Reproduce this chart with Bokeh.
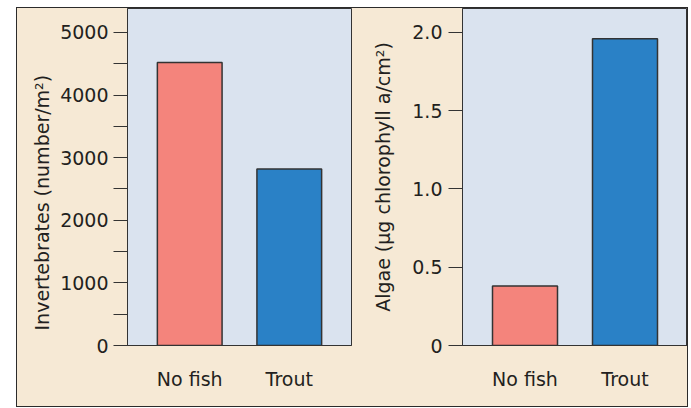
from bokeh.plotting import figure
from bokeh.layouts import row
from bokeh.models import FactorRange, Range1d, FixedTicker, Title
from bokeh.embed import file_html
from bokeh.resources import INLINE

# ---- data ----
categories = ["No fish", "Trout"]
invertebrates = [4520, 2820]          # number per m2
algae = [0.38, 1.96]                  # ug chlorophyll a per cm2
bar_colors = ["#f4847c", "#2a81c6"]

inv_ticks = [0, 1000, 2000, 3000, 4000, 5000]
inv_minor = [500, 1500, 2500, 3500, 4500]
alg_ticks = [0, 0.5, 1.0, 1.5, 2.0]
alg_tick_labels = ["0", "0.5", "1.0", "1.5", "2.0"]

inv_label = "Invertebrates (number/m²)"
alg_label = "Algae (μg chlorophyll a/cm²)"

# ---- style ----
BEIGE = "#f6e9d5"
PANEL = "#dae3ef"
DARK = "#333333"
TXT = "#231f20"
FONT = "DejaVu Sans"
FS = "19px"
H = 398


def style(p):
    p.xgrid.visible = False
    p.ygrid.visible = False
    p.xaxis.major_tick_line_color = None
    p.xaxis.minor_tick_line_color = None
    p.xaxis.axis_line_color = DARK
    p.xaxis.major_label_standoff = 16
    p.yaxis.axis_line_color = DARK
    p.yaxis.major_tick_line_color = DARK
    p.yaxis.minor_tick_line_color = DARK
    p.yaxis.major_tick_in = 0
    p.yaxis.major_tick_out = 14
    p.yaxis.minor_tick_in = 0
    p.yaxis.minor_tick_out = 14
    p.yaxis.major_label_standoff = 5
    for ax in (p.xaxis, p.yaxis):
        ax.major_label_text_font = FONT
        ax.major_label_text_font_size = FS
        ax.major_label_text_color = TXT
        ax.axis_label_text_font = FONT
        ax.axis_label_text_font_size = FS
        ax.axis_label_text_font_style = "normal"
        ax.axis_label_text_color = TXT


p1 = figure(width=340, height=H,
            x_range=FactorRange(factors=categories, range_padding=0.125,
                                range_padding_units="absolute"),
            y_range=Range1d(0, 5383),
            output_backend="svg", toolbar_location=None, title=None,
            min_border_left=110, min_border_right=6,
            min_border_top=0, min_border_bottom=61,
            background_fill_color=PANEL, border_fill_color=BEIGE,
            outline_line_color=DARK)
p1.vbar(x=categories, top=invertebrates, width=0.65, fill_color=bar_colors,
        line_color=DARK, line_width=1.5)
style(p1)
p1.yaxis.ticker = FixedTicker(ticks=inv_ticks, minor_ticks=inv_minor)
p1.add_layout(Title(text=inv_label, align="left", offset=15,
                    text_font=FONT, text_font_size=FS,
                    text_font_style="normal", text_color=TXT), "left")

p2 = figure(width=330, height=H,
            x_range=FactorRange(factors=categories, range_padding=0.125,
                                range_padding_units="absolute"),
            y_range=Range1d(0, 2.153),
            output_backend="svg", toolbar_location=None, title=None,
            min_border_left=105, min_border_right=0,
            min_border_top=0, min_border_bottom=61,
            background_fill_color=PANEL, border_fill_color=BEIGE,
            outline_line_color=DARK)
p2.vbar(x=categories, top=algae, width=0.65, fill_color=bar_colors,
        line_color=DARK, line_width=1.5)
style(p2)
p2.yaxis.ticker = FixedTicker(ticks=alg_ticks)
p2.yaxis.major_label_overrides = {t: l for t, l in zip(alg_ticks, alg_tick_labels)}
p2.yaxis.major_label_standoff = 6
p2.yaxis.axis_label = alg_label
p2.yaxis.axis_label_standoff = 15

layout = row(p1, p2, margin=(7, 0, 0, 16),
             styles={"border": "1px solid #2b2b2b", "background-color": BEIGE})

open("out.html", "w").write(file_html(layout, INLINE))
